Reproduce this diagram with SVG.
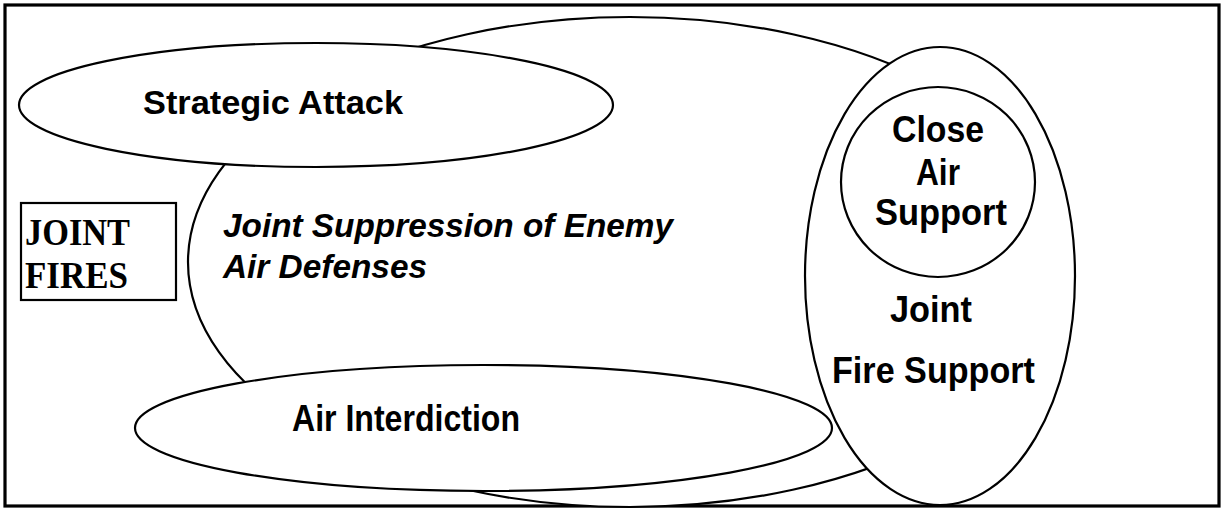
<svg xmlns="http://www.w3.org/2000/svg" width="1225" height="512" viewBox="0 0 1225 512">
  <style>
    .shape { fill: #ffffff; stroke: #000000; stroke-width: 2.2; }
    .lbl { font-family: "Liberation Sans", Arial, sans-serif; font-weight: bold; font-size: 34px; fill: #000000; }
    .big { font-size: 36px; }
    .ital { font-style: italic; }
    .serif { font-family: "Liberation Serif", "Times New Roman", serif; font-weight: bold; font-size: 37px; fill: #000000; }
  </style>
  <rect x="0" y="0" width="1225" height="512" fill="#ffffff"/>
  <g id="frame">
    <rect x="5" y="5" width="1214" height="501" fill="none" stroke="#000000" stroke-width="3.2"/>
  </g>
  <g id="jsead">
    <ellipse class="shape" cx="630" cy="262" rx="442" ry="245"/>
    <text class="lbl ital" x="223" y="237" textLength="450" lengthAdjust="spacingAndGlyphs">Joint Suppression of Enemy</text>
    <text class="lbl ital" x="223" y="278" textLength="204" lengthAdjust="spacingAndGlyphs">Air Defenses</text>
  </g>
  <g id="strategic-attack">
    <ellipse class="shape" cx="316" cy="105" rx="297" ry="62"/>
    <text class="lbl" x="143" y="114" textLength="260" lengthAdjust="spacingAndGlyphs">Strategic Attack</text>
  </g>
  <g id="air-interdiction">
    <ellipse class="shape" cx="483.5" cy="428" rx="348.5" ry="63"/>
    <text class="lbl big" x="292" y="431" textLength="228" lengthAdjust="spacingAndGlyphs">Air Interdiction</text>
  </g>
  <g id="joint-fire-support">
    <ellipse class="shape" cx="940" cy="276" rx="135" ry="229"/>
    <text class="lbl big" x="890" y="322" textLength="82" lengthAdjust="spacingAndGlyphs">Joint</text>
    <text class="lbl big" x="832" y="383" textLength="203" lengthAdjust="spacingAndGlyphs">Fire Support</text>
  </g>
  <g id="close-air-support">
    <ellipse class="shape" cx="938" cy="182" rx="97" ry="95"/>
    <text class="lbl big" x="892" y="142" textLength="92" lengthAdjust="spacingAndGlyphs">Close</text>
    <text class="lbl big" x="916" y="185" textLength="44" lengthAdjust="spacingAndGlyphs">Air</text>
    <text class="lbl big" x="875" y="225" textLength="132" lengthAdjust="spacingAndGlyphs">Support</text>
  </g>
  <g id="joint-fires">
    <rect x="21" y="203" width="155" height="97" fill="#ffffff" stroke="#000000" stroke-width="2.2"/>
    <text class="serif" x="25" y="245" textLength="105" lengthAdjust="spacingAndGlyphs">JOINT</text>
    <text class="serif" x="25" y="288" textLength="103" lengthAdjust="spacingAndGlyphs">FIRES</text>
  </g>
  <g id="connectors"></g>
</svg>
